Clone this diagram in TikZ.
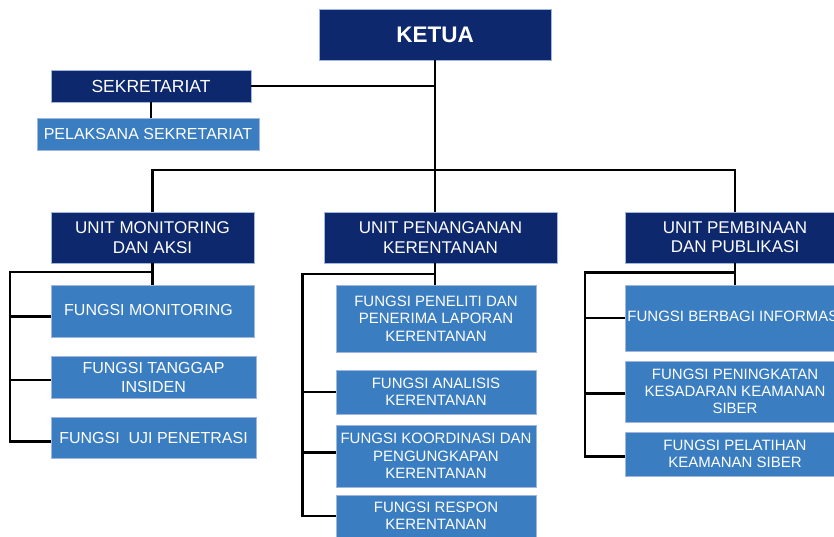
\documentclass[tikz,border=0pt]{standalone}
\usepackage{fontspec}
\setmainfont{Liberation Sans}
\definecolor{navy}{RGB}{14,40,110}
\definecolor{cobalt}{RGB}{58,125,192}
\definecolor{edgeblue}{RGB}{160,182,222}
\tikzset{
  box/.style={draw=edgeblue, line width=0.9pt, text=white, align=center,
    inner sep=0pt, outer sep=0pt},
  headbox/.style={box, fill=navy, font=\fontsize{17}{19.3}\selectfont},
  funcbox/.style={box, fill=cobalt, font=\fontsize{15}{17.3}\selectfont},
  link/.style={draw=black, line width=2.6pt, line join=miter}
}
\begin{document}
\begin{tikzpicture}[x=1pt,y=-1pt]
\useasboundingbox[fill=white] (0,0) rectangle (834,536);

% top level
\node[headbox, font=\fontsize{22.5}{26}\selectfont\bfseries,
  minimum width=232, minimum height=51] (ketua) at (435,34.5) {KETUA};
\node[headbox, font=\fontsize{17.5}{20}\selectfont,
  minimum width=200, minimum height=32] (sek) at (151,86) {SEKRETARIAT};
\node[funcbox, font=\fontsize{16}{19}\selectfont,
  minimum width=222, minimum height=32] (pel) at (148,134) {PELAKSANA SEKRETARIAT};

% units
\node[headbox, minimum width=203, minimum height=51] (uma) at (152.5,237.5)
  {UNIT MONITORING\\DAN AKSI};
\node[headbox, minimum width=233, minimum height=51] (upk) at (440.5,237.5)
  {UNIT PENANGANAN\\KERENTANAN};
\node[headbox, minimum width=220, minimum height=51] (upp) at (735,237.5)
  {UNIT PEMBINAAN\\DAN PUBLIKASI};

% functions of the monitoring unit
\node[funcbox, font=\fontsize{16}{19}\selectfont, minimum width=203, minimum height=52]
  (fm) at (152.5,311) {\raisebox{3pt}{FUNGSI MONITORING}\hspace*{8pt}};
\node[funcbox, font=\fontsize{16}{19}\selectfont, minimum width=205, minimum height=42]
  (ft) at (153.5,377) {FUNGSI TANGGAP\\INSIDEN};
\node[funcbox, font=\fontsize{16}{19}\selectfont, minimum width=205, minimum height=41]
  (fu) at (153.5,437.5) {FUNGSI\ \ UJI PENETRASI};

% functions of the vulnerability unit
\node[funcbox, minimum width=200, minimum height=67] (fp) at (436,318.5)
  {FUNGSI PENELITI DAN\\PENERIMA LAPORAN\\KERENTANAN};
\node[funcbox, minimum width=200, minimum height=44] (fa) at (436,392)
  {FUNGSI ANALISIS\\KERENTANAN};
\node[funcbox, minimum width=200, minimum height=62] (fk) at (436,456)
  {FUNGSI KOORDINASI DAN\\PENGUNGKAPAN\\KERENTANAN};
\node[funcbox, minimum width=200, minimum height=42] (fr) at (436,516)
  {FUNGSI RESPON\\KERENTANAN};

% functions of the outreach unit
\node[funcbox, minimum width=220, minimum height=66] (fb) at (735,318)
  {\raisebox{3pt}{FUNGSI BERBAGI INFORMASI}};
\node[funcbox, minimum width=220, minimum height=61] (fpk) at (735,391.5)
  {FUNGSI PENINGKATAN\\KESADARAN KEAMANAN\\SIBER};
\node[funcbox, minimum width=220, minimum height=44] (fpl) at (735,454)
  {FUNGSI PELATIHAN\\KEAMANAN SIBER};

% bus coordinates
\coordinate (bus) at (435,170);
\coordinate (ma) at (10,272);
\coordinate (pk) at (302.3,274);
\coordinate (pp) at (585,272.3);

% head and secretariat
\draw[link] (ketua.south) -- (ketua.south |- upk.north);
\draw[link] (sek.east) -- (sek.east -| ketua.south);
\draw[link] (sek.south) -- (sek.south |- pel.north);
\draw[link] (uma.north) |- (bus) -| (upp.north);

% monitoring unit branch
\draw[link] (uma.south) -- (fm.north);
\draw[link] (uma.south |- ma) -- (ma) |- ([yshift=-4pt]fu.west);
\draw[link] (ma |- fm.west) ++(0,5.7) -- ([yshift=-5.7pt]fm.west);
\draw[link] (ma |- ft.west) ++(0,3) -- ([yshift=-3pt]ft.west);

% vulnerability unit branch
\draw[link] (upk.south -| ketua.south) -- (fp.north -| ketua.south);
\draw[link] (pk -| ketua.south) -- (pk) |- (fr.west);
\draw[link] (pk |- fa.west) -- (fa.west);
\draw[link] (pk |- fk.west) ++(0,-3.7) -- ([yshift=3.7pt]fk.west);

% outreach unit branch
\draw[link] (upp.south) -- (fb.north);
\draw[link] (upp.south |- pp) -- (pp) |- ([yshift=-2.7pt]fpl.west);
\draw[link] (pp |- fb.west) -- (fb.west);
\draw[link] (pp |- fpk.west) ++(0,1.8) -- ([yshift=-1.8pt]fpk.west);
\end{tikzpicture}
\end{document}
